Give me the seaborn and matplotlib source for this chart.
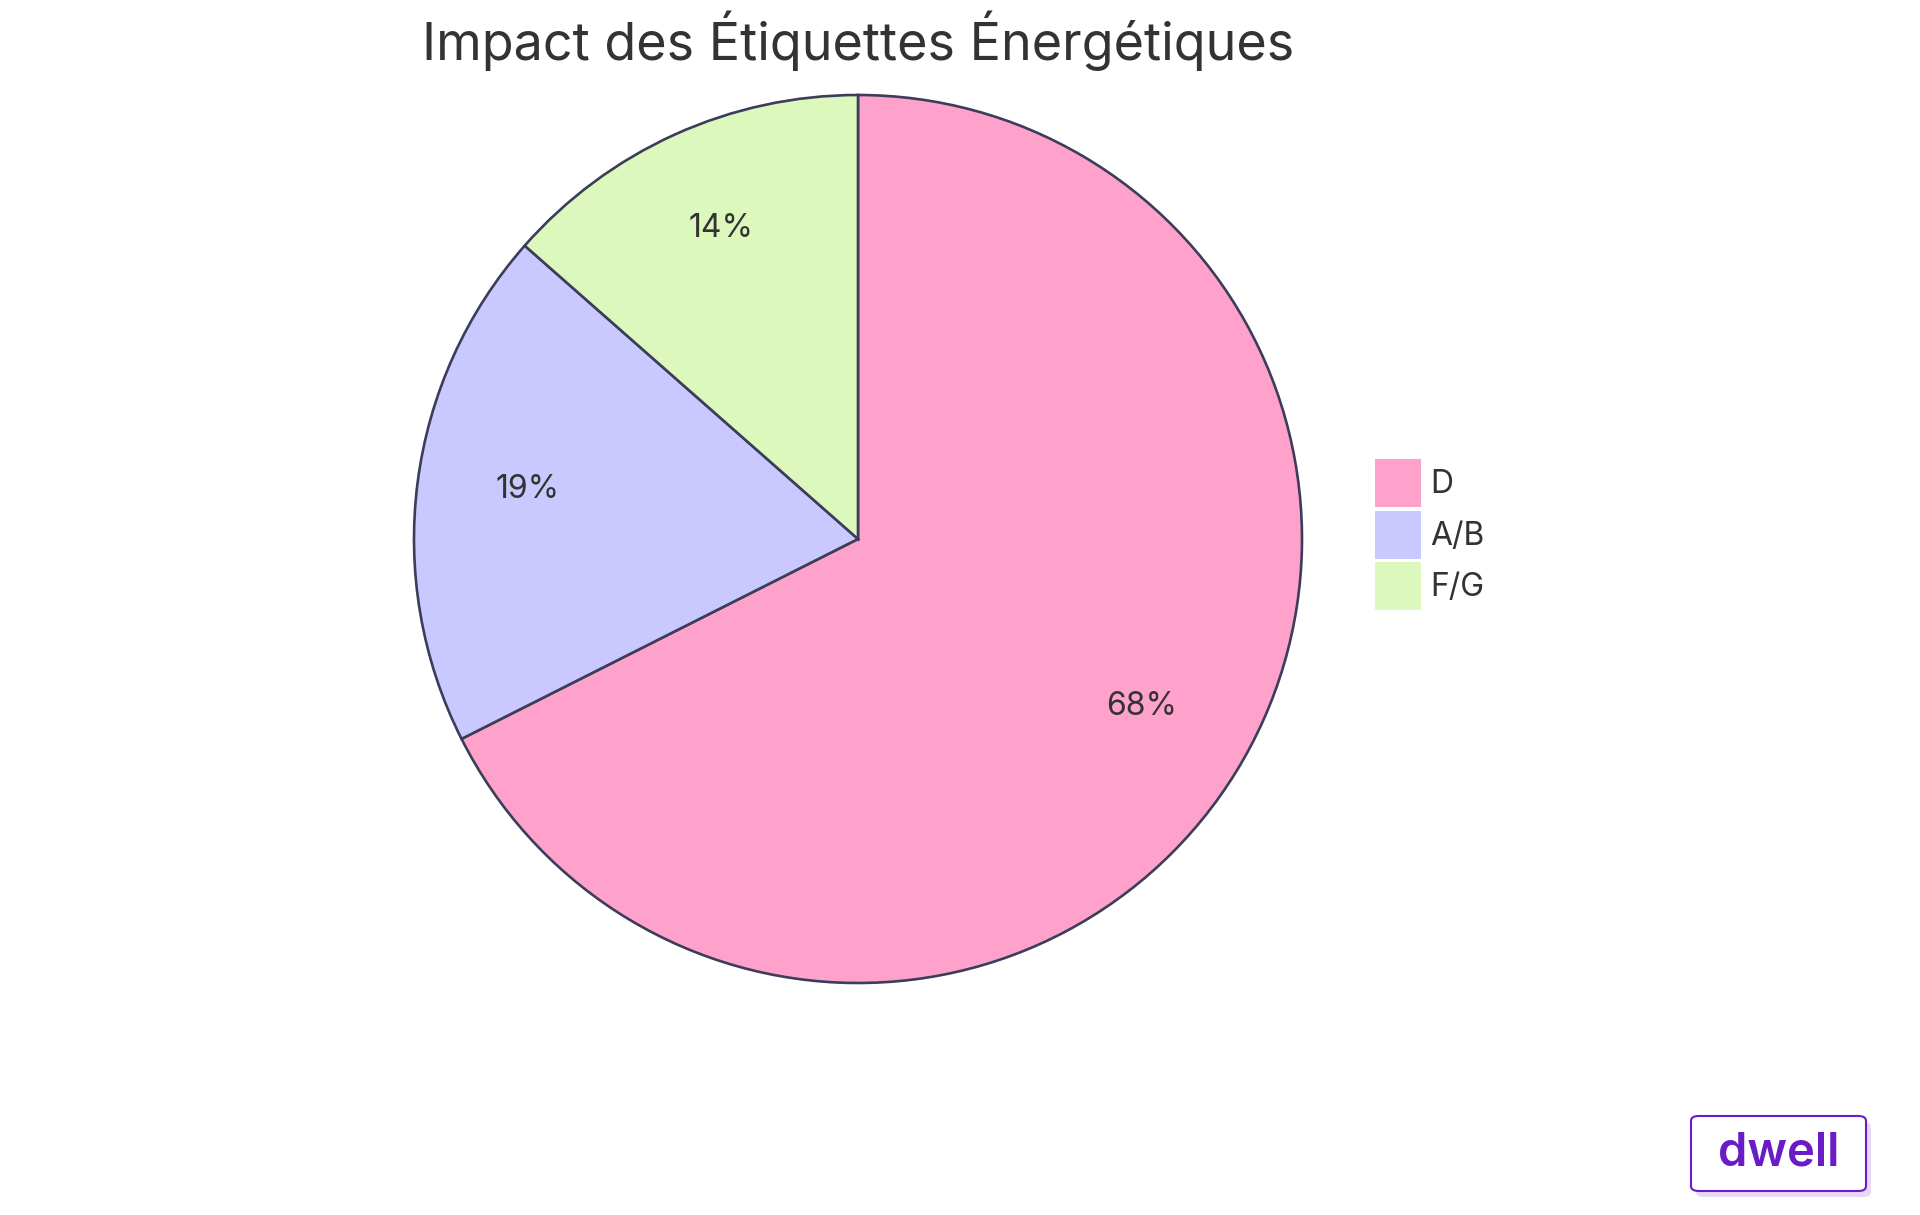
import matplotlib
matplotlib.use('Agg')
import matplotlib.pyplot as plt
import matplotlib.patches as mpatches
import matplotlib.transforms as mtransforms
from matplotlib.patches import FancyBboxPatch
import seaborn as sns

# données du graphique
labels = ['D', 'A/B', 'F/G']
values = [50, 14, 10]
colors = ['#FFA2CB', '#C9C9FF', '#DCF8BC']
title = 'Impact des Étiquettes Énergétiques'

sns.set_theme(style='white')
plt.rcParams['font.family'] = ['Inter', 'DejaVu Sans']

fig = plt.figure(figsize=(19.2, 12.15), dpi=100)
fig.patch.set_facecolor('white')

# axe du camembert (carré en pixels)
cx, cy, r = 858 / 1920, 1 - 539 / 1215, 444
ax = fig.add_axes([cx - r / 1920, cy - r / 1215, 2 * r / 1920, 2 * r / 1215])
wedges, texts, autotexts = ax.pie(
    values, colors=sns.color_palette(colors), startangle=90, counterclock=False,
    autopct=lambda p: f'{p:.0f}%', pctdistance=0.75, radius=1,
    wedgeprops=dict(edgecolor='#3b3d5a', linewidth=1.9, clip_on=False),
    textprops=dict(color='#333333', fontsize=23),
)
# remonter un peu les pourcentages
for t in autotexts:
    t.set_transform(mtransforms.offset_copy(ax.transData, fig=fig, x=0, y=5, units='points'))
ax.set_xlim(-1, 1)
ax.set_ylim(-1, 1)
ax.axis('off')

fig.text(cx, 1 - 41 / 1215, title, ha='center', va='center', fontsize=37.5, color='#333333')

# légende
handles = [mpatches.Patch(facecolor=c, edgecolor='none') for c in colors]
fig.legend(handles, labels, loc='upper left', bbox_to_anchor=(1375 / 1920, 1 - 459 / 1215),
           frameon=False, fontsize=23, handlelength=1.44, handleheight=1.95,
           labelspacing=0.1, handletextpad=0.28, borderpad=0, borderaxespad=0,
           labelcolor='#333333')

# logo dwell
x0, y0, w, h = 1691 / 1920, 1 - 1191 / 1215, 175 / 1920, 75 / 1215
shadow = FancyBboxPatch((x0 + 5 / 1920, y0 - 6 / 1215), w, h, boxstyle='round,pad=0,rounding_size=0.004',
                        transform=fig.transFigure, facecolor='#e6d9f7', edgecolor='none')
box = FancyBboxPatch((x0, y0), w, h, boxstyle='round,pad=0,rounding_size=0.004',
                     transform=fig.transFigure, facecolor='white', edgecolor='#6a1cc7', linewidth=1.5)
fig.patches.extend([shadow, box])
fig.text(x0 + w / 2, y0 + h / 2, 'dwell', ha='center', va='center', fontsize=34,
         fontweight='semibold', color='#6a1cc7')

fig.savefig('out.png', dpi=100, facecolor='white')
